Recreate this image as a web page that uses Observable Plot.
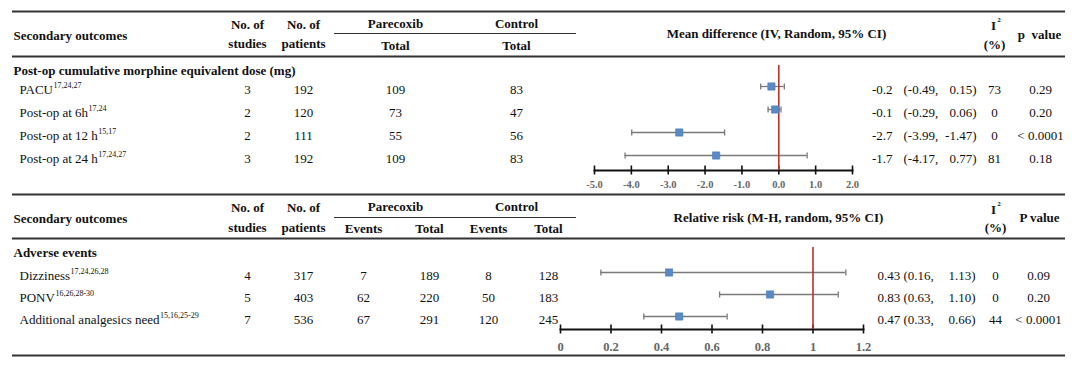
<!DOCTYPE html>
<html><head><meta charset="utf-8">
<script src="https://cdn.jsdelivr.net/npm/d3@7"></script>
<script src="https://cdn.jsdelivr.net/npm/@observablehq/plot@0.6"></script>
<style>
body{margin:0;background:#fff;}
#chart{position:relative;width:1082px;height:370px;}
</style></head><body><div id="chart"></div>
<script>
// ---------------- data ----------------
const sec1Outcomes = ["PACU", "Post-op at 6h", "Post-op at 12 h", "Post-op at 24 h"];
const sec1Refs = ["17,24,27", "17,24", "15,17", "17,24,27"];
const sec1Studies = [3, 2, 2, 3];
const sec1Patients = [192, 120, 111, 192];
const sec1ParTotal = [109, 73, 55, 109];
const sec1CtlTotal = [83, 47, 56, 83];
const sec1MD = [-0.2, -0.1, -2.7, -1.7];
const sec1Lo = [-0.49, -0.29, -3.99, -4.17];
const sec1Hi = [0.15, 0.06, -1.47, 0.77];
const sec1I2 = [73, 0, 0, 81];
const sec1P = ["0.29", "0.20", "< 0.0001", "0.18"];
const sec1Ticks = [-5, -4, -3, -2, -1, 0, 1, 2];

const sec2Outcomes = ["Dizziness", "PONV", "Additional analgesics need"];
const sec2Refs = ["17,24,26,28", "16,26,28-30", "15,16,25-29"];
const sec2Studies = [4, 5, 7];
const sec2Patients = [317, 403, 536];
const sec2ParEvents = [7, 62, 67];
const sec2ParTotal = [189, 220, 291];
const sec2CtlEvents = [8, 50, 120];
const sec2CtlTotal = [128, 183, 245];
const sec2RR = [0.43, 0.83, 0.47];
const sec2Lo = [0.16, 0.63, 0.33];
const sec2Hi = [1.13, 1.10, 0.66];
const sec2I2 = [0, 0, 44];
const sec2P = ["0.09", "0.20", "< 0.0001"];
const sec2Ticks = [0, 0.2, 0.4, 0.6, 0.8, 1, 1.2];

const sec1Title = "Post-op cumulative morphine equivalent dose (mg)";
const sec2Title = "Adverse events";
const sec1Effect = "Mean difference (IV, Random, 95% CI)";
const sec2Effect = "Relative risk (M-H, random, 95% CI)";

// ---------------- layout / style ----------------
const FONT = '"Liberation Serif", "Times New Roman", serif';
const FS = 13;
const INK = "#111";
const COL = {label: 13, item: 19, studies: 247, patients: 303,
  parTot1: 395, ctlTot1: 516, parEv: 363, parTot2: 429, ctlEv: 488, ctlTot2: 548,
  par: 395, ctl: 516};
const R1 = {est: 892, lo: 903, hi: 976, i2: 994, p: 1040};
const R2 = {est: 877, hi: 975, i2: 995, p: 1038};
const ROWS1 = [89, 112, 135, 158];
const ROWS2 = [275, 297, 319];

const ctx = document.createElement("canvas").getContext("2d");
function tw(s, size, weight) { ctx.font = `${weight || "normal"} ${size}px "Liberation Serif"`; return ctx.measureText(s).width; }

const items = [];
function T(t, x, y, anchor = "middle", bold = false, size = FS) { items.push({t: String(t), x, y, anchor, bold, size}); }

// headers section 1
T("Secondary outcomes", COL.label, 35, "start", true);
T("No. of", COL.studies, 24, "middle", true); T("studies", COL.studies, 43, "middle", true);
T("No. of", COL.patients, 24, "middle", true); T("patients", COL.patients, 43, "middle", true);
T("Parecoxib", COL.par, 23, "middle", true); T("Control", COL.ctl, 23, "middle", true);
T("Total", COL.parTot1, 45, "middle", true); T("Total", COL.ctlTot1, 45, "middle", true);
T(sec1Effect, 776, 33, "middle", true);
T("I", 993, 25, "middle", true); T("2", 998.5, 19.5, "middle", true, 7);
T("(%)", 994, 44, "middle", true);
T("p  value", 1039, 34, "middle", true);
T(sec1Title, COL.label, 70, "start", true);

// headers section 2
T("Secondary outcomes", COL.label, 218, "start", true);
T("No. of", COL.studies, 207, "middle", true); T("studies", COL.studies, 227, "middle", true);
T("No. of", COL.patients, 207, "middle", true); T("patients", COL.patients, 227, "middle", true);
T("Parecoxib", COL.par, 206, "middle", true); T("Control", COL.ctl, 206, "middle", true);
T("Events", COL.parEv, 228, "middle", true); T("Total", COL.parTot2, 228, "middle", true);
T("Events", COL.ctlEv, 228, "middle", true); T("Total", COL.ctlTot2, 228, "middle", true);
T(sec2Effect, 778, 217, "middle", true);
T("I", 993, 209, "middle", true); T("2", 998.5, 203.5, "middle", true, 7);
T("(%)", 995, 227, "middle", true);
T("P value", 1039, 217, "middle", true);
T(sec2Title, COL.label, 252, "start", true);

// body rows section 1
sec1Outcomes.forEach((o, i) => {
  const y = ROWS1[i];
  T(o, COL.item, y, "start");
  T(sec1Refs[i], COL.item + tw(o, FS) + 0.5, y - 4, "start", false, 8);
  T(sec1Studies[i], COL.studies, y); T(sec1Patients[i], COL.patients, y);
  T(sec1ParTotal[i], COL.parTot1, y); T(sec1CtlTotal[i], COL.ctlTot1, y);
  T(sec1MD[i].toFixed(1), R1.est, y, "end");
  T("(" + sec1Lo[i].toFixed(2) + ",", R1.lo, y, "start");
  T(sec1Hi[i].toFixed(2) + ")", R1.hi, y, "end");
  T(sec1I2[i], R1.i2, y); T(sec1P[i], R1.p, y);
});
// body rows section 2
sec2Outcomes.forEach((o, i) => {
  const y = ROWS2[i];
  T(o, COL.item, y, "start");
  T(sec2Refs[i], COL.item + tw(o, FS) + 0.5, y - 4, "start", false, 8);
  T(sec2Studies[i], COL.studies, y); T(sec2Patients[i], COL.patients, y);
  T(sec2ParEvents[i], COL.parEv, y); T(sec2ParTotal[i], COL.parTot2, y);
  T(sec2CtlEvents[i], COL.ctlEv, y); T(sec2CtlTotal[i], COL.ctlTot2, y);
  T(sec2RR[i].toFixed(2) + " (" + sec2Lo[i].toFixed(2) + ",", R2.est, y, "start");
  T(sec2Hi[i].toFixed(2) + ")", R2.hi, y, "end");
  T(sec2I2[i], R2.i2, y); T(sec2P[i], R2.p, y);
});

const rules = [
  {y: 11, x1: 12, x2: 1065, w: 2},
  {y: 56, x1: 12, x2: 1065, w: 2},
  {y: 33, x1: 334, x2: 576, w: 1},
  {y: 194, x1: 12, x2: 1065, w: 2},
  {y: 217, x1: 334, x2: 576, w: 1},
  {y: 238, x1: 12, x2: 1065, w: 2},
  {y: 355, x1: 12, x2: 1065, w: 2}
];

const textMarks = d3.groups(items, d => `${d.anchor}|${d.bold}`).map(([k, arr]) =>
  Plot.text(arr, {x: "x", y: "y", text: "t", fontSize: "size", textAnchor: arr[0].anchor,
    fontWeight: arr[0].bold ? "bold" : "normal", fill: INK, fontFamily: FONT}));

const chart = document.getElementById("chart");
function place(svg, left, top) {
  svg.style.position = "absolute"; svg.style.left = left + "px"; svg.style.top = top + "px";
  svg.style.background = "transparent"; svg.style.overflow = "visible";
  chart.appendChild(svg);
}

const table = Plot.plot({
  width: 1082, height: 370, margin: 0,
  x: {type: "identity", axis: null}, y: {type: "identity", axis: null},
  style: {fontFamily: FONT, background: "transparent"},
  marks: [
    Plot.ruleY(rules, {y: "y", x1: "x1", x2: "x2", strokeWidth: "w", stroke: "#333"}),
    ...textMarks
  ]
});
place(table, 0, 0);

const capSymbol = {draw(c, size) { const h = Math.sqrt(size / Math.PI); c.moveTo(0, -h); c.lineTo(0, h); }};

function forest(o) {
  const rows = o.labels.map((l, i) => ({label: l, est: o.est[i], lo: o.lo[i], hi: o.hi[i]}));
  const caps = rows.flatMap(r => [{label: r.label, x: r.lo}, {label: r.label, x: r.hi}]);
  return Plot.plot({
    width: o.width, height: o.height,
    marginLeft: o.mL, marginRight: o.mR, marginTop: o.mT, marginBottom: o.mB,
    x: {domain: o.domain, axis: null},
    y: {type: "point", domain: o.labels, range: o.yRange, padding: 0, axis: null},
    style: {fontFamily: FONT, background: "transparent", overflow: "visible"},
    marks: [
      Plot.frame({anchor: "bottom", stroke: "#111", strokeWidth: 2}),
      Plot.axisX(o.ticks, {tickSize: 9, dy: -4.5, tickFormat: () => "", stroke: "#111", strokeWidth: 1.6}),
      Plot.axisX(o.ticks, {tickSize: 0, tickPadding: o.pad, tickFormat: o.fmt, fontSize: o.fs, fontWeight: "bold", fill: "#666", fontFamily: FONT}),
      Plot.ruleY(rows, {y: "label", x1: "lo", x2: "hi", stroke: "#7a7a7a", strokeWidth: 1.3}),
      Plot.dot(caps, {x: "x", y: "label", symbol: capSymbol, r: 3, stroke: "#7a7a7a", strokeWidth: 1.3, fill: "none"}),
      Plot.ruleX([o.ref], {stroke: "#b8322a", strokeWidth: 1.6}),
      Plot.dot(rows, {x: "est", y: "label", symbol: "square", r: 4.1, fill: "#5a8ac6", stroke: "#4a7ab6", strokeWidth: 0.6})
    ]
  });
}

place(forest({
  width: 310, height: 145, mL: 34, mR: 18, mT: 10, mB: 30,
  domain: [-5, 2], ticks: sec1Ticks, fmt: d => d.toFixed(1), fs: 10.5, pad: 10,
  labels: sec1Outcomes, est: sec1MD, lo: sec1Lo, hi: sec1Hi, ref: 0, yRange: [31, 100]
}), 560, 55);

place(forest({
  width: 340, height: 125, mL: 20, mR: 17, mT: 12, mB: 31,
  domain: [0, 1.2], ticks: sec2Ticks, fmt: d => String(+d.toFixed(1)), fs: 12.5, pad: 13,
  labels: sec2Outcomes, est: sec2RR, lo: sec2Lo, hi: sec2Hi, ref: 1, yRange: [37, 81]
}), 540, 235);
</script></body></html>
